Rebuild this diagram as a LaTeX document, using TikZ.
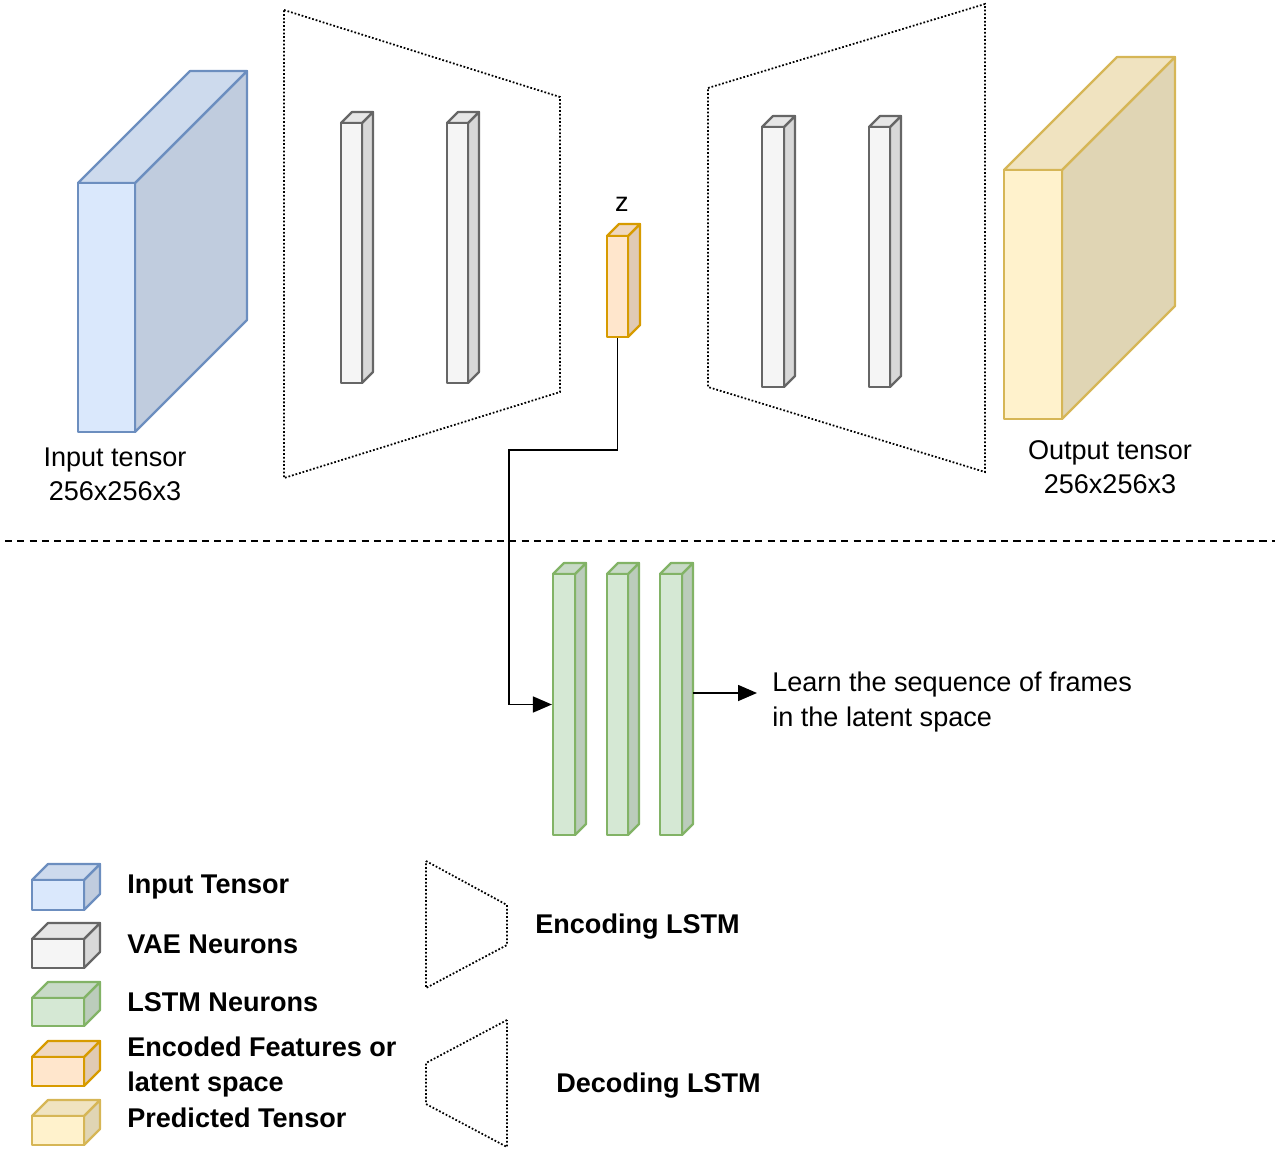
\documentclass[tikz,border=0pt]{standalone}
\usepackage{fontspec}
\setmainfont{Liberation Sans}
\usetikzlibrary{arrows.meta,fit}
\definecolor{blueF}{HTML}{DAE8FC}\definecolor{blueS}{HTML}{6C8EBF}
\definecolor{greyF}{HTML}{F5F5F5}\definecolor{greyS}{HTML}{666666}
\definecolor{greenF}{HTML}{D5E8D4}\definecolor{greenS}{HTML}{82B366}
\definecolor{orangeF}{HTML}{FFE6CC}\definecolor{orangeS}{HTML}{D79B00}
\definecolor{yellowF}{HTML}{FFF2CC}\definecolor{yellowS}{HTML}{D6B656}
% #1 name, #2 x1, #3 y1 (top), #4 x2, #5 y2 (bottom), #6 depth, #7 fill, #8 stroke
\newcommand\drawcube[8]{%
  \filldraw[draw=#8, fill=#7!88!black, cubeline] (#4,#3) -- (#4+#6,#3-#6) -- (#4+#6,#5-#6) -- (#4,#5) -- cycle;
  \filldraw[draw=#8, fill=#7!94!black, cubeline] (#2,#3) -- (#2+#6,#3-#6) -- (#4+#6,#3-#6) -- (#4,#3) -- cycle;
  \node[fit={(#2,#3) (#4,#5)}, inner sep=0pt, draw=#8, fill=#7, cubeline] (#1) {};
}
\tikzset{
  cubeline/.style={line width=1.25pt, line join=round},
  trap/.style={line width=1pt, dash pattern=on 1pt off 1.1pt},
  txt/.style={font=\fontsize{15.4}{19.4}\selectfont, inner sep=0pt},
  btxt/.style={font=\fontsize{15.4}{19.4}\selectfont\bfseries, inner sep=0pt, anchor=west, align=left},
  conn/.style={line width=0.9pt, -{Triangle[length=0.38cm, width=0.32cm]}},
}
\begin{document}
\begin{tikzpicture}[x=0.02cm, y=-0.02cm]
\useasboundingbox (0,0) rectangle (1275,1152);

% input / output tensors
\drawcube{inT}{78}{183}{135}{432}{112}{blueF}{blueS}
\drawcube{outT}{1004}{170}{1062}{419}{113}{yellowF}{yellowS}
\node[txt, align=center] (inL) at (115,474) {Input tensor\\256x256x3};
\node[txt, align=center] (outL) at (1110,467) {Output tensor\\256x256x3};

% encoder / decoder trapezoids
\draw[trap] (284,10) -- (560,97) -- (560,392) -- (284,478) -- cycle;
\draw[trap] (708,88) -- (985,4) -- (985,472) -- (708,387) -- cycle;

% VAE neurons
\drawcube{e1}{341}{123}{362}{383}{11}{greyF}{greyS}
\drawcube{e2}{447}{123}{468}{383}{11}{greyF}{greyS}
\drawcube{d1}{762}{127}{784}{387}{11}{greyF}{greyS}
\drawcube{d2}{869}{127}{890}{387}{11}{greyF}{greyS}

% latent z
\drawcube{z}{607}{236}{628}{337}{12}{orangeF}{orangeS}
\node[txt] (zL) at (622,204) {z};

% separator
\coordinate (sepA) at (5,541);
\coordinate (sepB) at (1275,541);
\draw[line width=0.85pt, dash pattern=on 4pt off 3pt] (sepA) -- (sepB);

% LSTM neurons
\drawcube{l1}{553}{574}{575}{835}{11}{greenF}{greenS}
\drawcube{l2}{607}{574}{628}{835}{11}{greenF}{greenS}
\drawcube{l3}{660}{574}{682}{835}{11}{greenF}{greenS}

% connector z -> LSTM
\coordinate (bend) at (509,450);
\draw[conn] (z.south) |- (bend) |- (l1.west);

% output arrow
\node[txt, anchor=west, align=left] (learn) at (772,702) {Learn the sequence of frames\\in the latent space};
\coordinate (oa) at (693,693);
\coordinate (ob) at (757,693);
\draw[conn] (oa) -- (ob);

% legend
\drawcube{lg1}{32}{880}{84}{910}{16}{blueF}{blueS}
\drawcube{lg2}{32}{939}{84}{968}{16}{greyF}{greyS}
\drawcube{lg3}{32}{998}{84}{1026}{16}{greenF}{greenS}
\drawcube{lg4}{32}{1057}{84}{1086}{16}{orangeF}{orangeS}
\drawcube{lg5}{32}{1116}{84}{1145}{16}{yellowF}{yellowS}
\node[btxt] (t1) at (127,887) {Input Tensor};
\node[btxt] (t2) at (127,944) {VAE Neurons};
\node[btxt] (t3) at (127,1002) {LSTM Neurons};
\node[btxt] (t4) at (127,1067) {Encoded Features or\\latent space};
\node[btxt] (t5) at (127,1118) {Predicted Tensor};

\draw[trap] (426,861) -- (507,905) -- (507,945) -- (426,988) -- cycle;
\draw[trap] (507,1020) -- (426,1063) -- (426,1104) -- (507,1147) -- cycle;
\node[btxt] (encL) at (535,927) {Encoding LSTM};
\node[btxt] (decL) at (556,1086) {Decoding LSTM};
\end{tikzpicture}
\end{document}
